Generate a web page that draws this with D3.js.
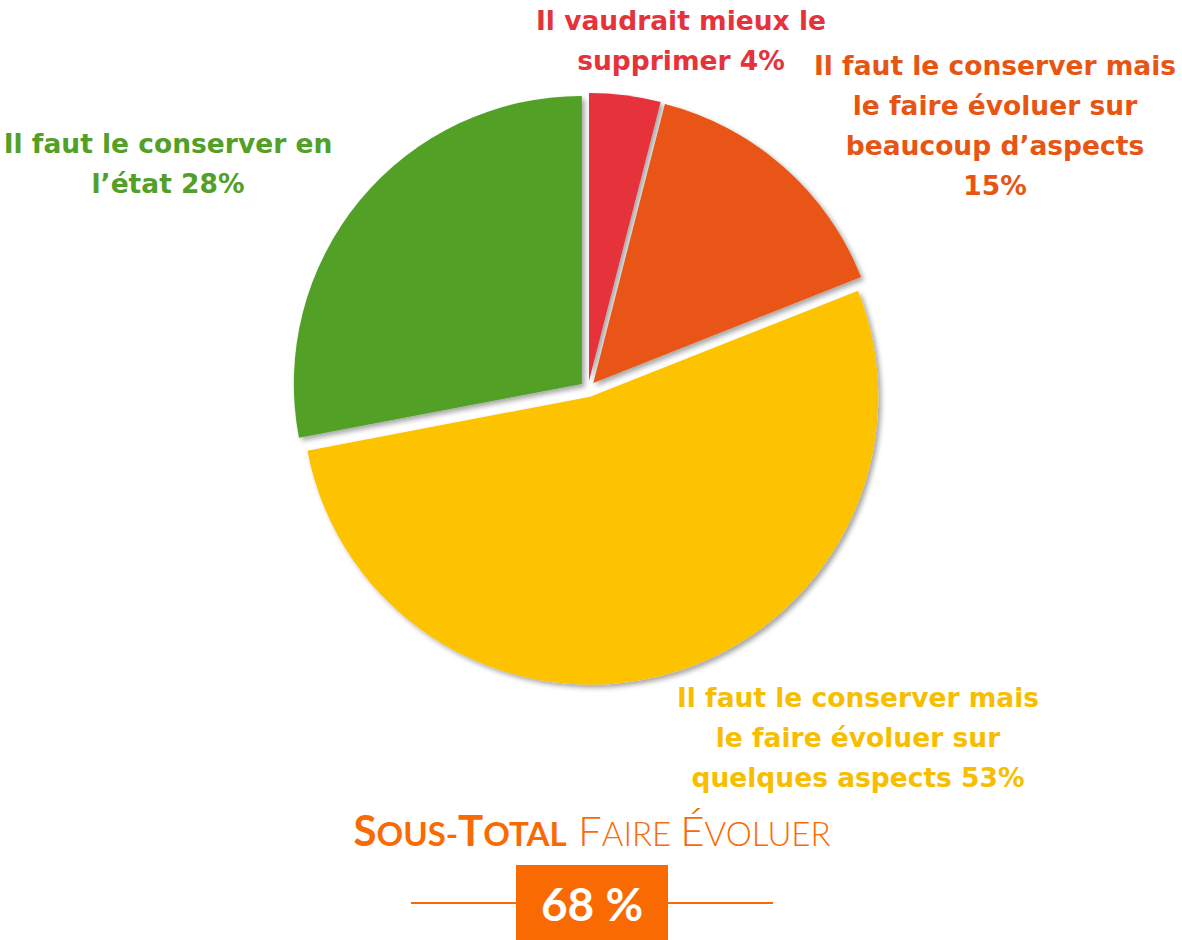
<!DOCTYPE html>
<meta charset="utf-8">
<style>
body { margin: 0; background: #fff; }
svg { display: block; }
.lbl { font-family: "DejaVu Sans", sans-serif; font-weight: 700; }
</style>
<svg width="1182" height="940"></svg>
<script src="https://cdn.jsdelivr.net/npm/d3@7"></script>
<script>

// data, clockwise from 12 o'clock
var categories = [
  "Il vaudrait mieux le supprimer",
  "Il faut le conserver mais le faire évoluer sur beaucoup d’aspects",
  "Il faut le conserver mais le faire évoluer sur quelques aspects",
  "Il faut le conserver en l’état"
];
var values = [4, 15, 53, 28];
var labelLines = [
  ["Il vaudrait mieux le", "supprimer 4%"],
  ["Il faut le conserver mais", "le faire évoluer sur", "beaucoup d’aspects", "15%"],
  ["Il faut le conserver mais", "le faire évoluer sur", "quelques aspects 53%"],
  ["Il faut le conserver en", "l’état 28%"]
];
var colors = ["#E5333B", "#E85512", "#FDC300", "#52A028"];
var labelColors = ["#E5333B", "#E85512", "#F7BE00", "#52A028"];
var subtotalValue = "68 %";

// layout
var cx = 588, cy = 389, r = 288, explode = 8;
var labelPos = [[681, 20], [995, 65], [858, 697], [168, 143]];
var lineH = 40;
var orange = "#FA6A02";

var svg = d3.select("svg");

var defs = svg.append("defs");
var f = defs.append("filter").attr("id", "sh")
  .attr("x", "-10%").attr("y", "-10%").attr("width", "120%").attr("height", "120%");
f.append("feDropShadow")
  .attr("dx", 3).attr("dy", 3).attr("stdDeviation", 2.5)
  .attr("flood-color", "#000").attr("flood-opacity", 0.35);

var pie = d3.pie().sort(null).value(function(d) { return d; });
var arc = d3.arc().innerRadius(0).outerRadius(r);
var arcs = pie(values);

var g = svg.append("g").attr("transform", "translate(" + cx + "," + cy + ")");

g.selectAll("path")
  .data(arcs)
  .enter().append("path")
    .attr("d", arc)
    .attr("fill", function(d, i) { return colors[i]; })
    .attr("filter", "url(#sh)")
    .attr("transform", function(d) {
      var a = (d.startAngle + d.endAngle) / 2;
      return "translate(" + (Math.sin(a) * explode) + "," + (-Math.cos(a) * explode) + ")";
    });

// slice labels
arcs.forEach(function(d, i) {
  var t = svg.append("text")
    .attr("class", "lbl")
    .attr("text-anchor", "middle")
    .attr("fill", labelColors[i])
    .style("font-size", "26.5px");
  labelLines[i].forEach(function(s, j) {
    t.append("tspan")
      .attr("x", labelPos[i][0])
      .attr("y", labelPos[i][1] + j * lineH)
      .attr("dy", "0.36em")
      .text(s);
  });
});

// subtitle in small caps
var title = svg.append("text")
  .attr("x", 592).attr("y", 846)
  .attr("text-anchor", "middle")
  .attr("fill", orange)
  .style("font-family", "Lato, sans-serif");
[["S", 42, 700], ["OUS-", 33, 700], ["T", 42, 700], ["OTAL", 33, 700],
 [" F", 42, 300], ["AIRE ", 33, 300], ["É", 42, 300], ["VOLUER", 33, 300]].forEach(function(p) {
  title.append("tspan").style("font-size", p[1] + "px").style("font-weight", p[2]).text(p[0]);
});

// subtotal box
svg.append("line").attr("x1", 411).attr("x2", 516).attr("y1", 903).attr("y2", 903)
  .attr("stroke", orange).attr("stroke-width", 2);
svg.append("line").attr("x1", 668).attr("x2", 773).attr("y1", 903).attr("y2", 903)
  .attr("stroke", orange).attr("stroke-width", 2);
svg.append("rect").attr("x", 516).attr("y", 865).attr("width", 152).attr("height", 80)
  .attr("fill", orange);
svg.append("text")
  .attr("x", 592).attr("y", 904).attr("dy", "0.36em")
  .attr("text-anchor", "middle")
  .attr("fill", "#fff")
  .style("font-family", "Lato, sans-serif").style("font-weight", 700)
  .style("font-size", "46px")
  .text(subtotalValue);

</script>
